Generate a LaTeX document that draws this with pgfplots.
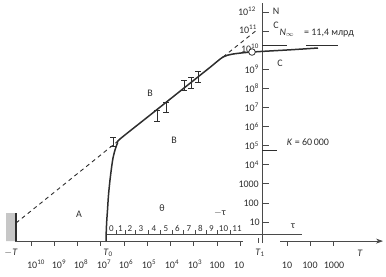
\documentclass[border=0pt]{standalone}
\usepackage{fontspec}
\setmainfont{Carlito}
\usepackage{pgfplots}
\pgfplotsset{compat=1.18}
\usetikzlibrary{arrows.meta}
\definecolor{ink}{HTML}{2E2E2E}
\definecolor{axisgray}{HTML}{4A4A4A}
\begin{document}
\begin{tikzpicture}
\begin{axis}[scale only axis, width=386pt, height=277pt,
  xmin=0, xmax=386, ymin=-1.88, ymax=12.63, hide axis, clip=false,
  unbounded coords=jump]
% invisible frame fixing the picture's extent
\addplot[draw=none, forget plot] coordinates {(0,-1.88) (386,12.63)};
% gray bar at -T
\addplot[fill=black!22, draw=none] coordinates {(6,0) (15,0) (15,1.47) (6,1.47) (6,0)};
\addplot[ink, line width=2pt] coordinates {(15.5,0) (15.5,1.47)};
% main T axis (left part)
\addplot[axisgray, line width=0.8pt] coordinates {(15,0) (243,0)};
\addplot[axisgray, line width=0.7pt] coordinates {
 (31,0) (31,-0.26) (31,nan) (54,0) (54,-0.26) (54,nan) (77,0) (77,-0.26) (77,nan)
 (100,0) (100,-0.26) (100,nan) (124,0) (124,-0.26) (124,nan) (147,0) (147,-0.26) (147,nan)
 (170,0) (170,-0.26) (170,nan) (193,0) (193,-0.26) (193,nan) (217,0) (217,-0.26) (217,nan)
 (240,0) (240,-0.26) (240,nan) (258,0.16) (258,-0.12) (258,nan)
 (287,0) (287,-0.26) (287,nan) (310,0) (310,-0.26) (310,nan) (333,0) (333,-0.26)};
% right T axis with arrow
\addplot[axisgray, line width=0.8pt, -{Stealth[length=7pt,width=5pt]}] coordinates {(280,0) (383,0)};
% vertical N axis
\addplot[axisgray, line width=0.8pt] coordinates {(262,-0.1) (262,12.47)};
\addplot[axisgray, line width=0.7pt] coordinates {
 (262,1) (269,1) (262,nan) (262,2) (269,2) (262,nan) (262,3) (269,3) (262,nan)
 (262,4) (269,4) (262,nan) (262,5) (269,5) (262,nan) (262,6) (269,6) (262,nan)
 (262,7) (269,7) (262,nan) (262,8) (269,8) (262,nan) (262,9) (269,9) (262,nan)
 (262,11) (269,11) (262,nan) (262,12) (269,12)};
% K = 60000 mark
\addplot[ink, line width=0.8pt] coordinates {(262,4.77) (277,4.77)};
% N infinity asymptote
\addplot[ink, line width=0.7pt] coordinates {(262,10.25) (287,10.25) (287,nan) (306,10.25) (338,10.25)};
% theta / tau scale baseline and separators
\addplot[axisgray, line width=0.7pt] coordinates {(106,0.37) (302,0.37)};
\addplot[axisgray, line width=0.5pt] coordinates {
 (116,0.37) (116,0.58) (116,nan) (125,0.37) (125,0.58) (125,nan) (135,0.37) (135,0.58) (135,nan)
 (148,0.37) (148,0.58) (148,nan) (160,0.37) (160,0.58) (160,nan) (172,0.37) (172,0.58) (172,nan)
 (183,0.37) (183,0.58) (183,nan) (195,0.37) (195,0.58) (195,nan) (206,0.37) (206,0.58) (206,nan)
 (217,0.37) (217,0.58) (217,nan) (230,0.37) (230,0.58)};
% dashed straight line (hyperbolic law)
\addplot[ink, line width=0.9pt, dash pattern=on 4pt off 3.5pt] coordinates {(16,0.947) (118,5.24)};
\addplot[ink, line width=0.9pt, dash pattern=on 4pt off 3.5pt] coordinates {(223,9.643) (256,11.02)};
% solid growth curve
\addplot[ink, line width=1.5pt, smooth, tension=0.45] coordinates {
 (106,0) (106.3,0.58) (106.8,1.105) (107.5,1.628) (108.5,2.414) (110,3.2) (111.5,3.83)
 (113,4.352) (115,4.771) (117.5,5.138) (120,5.348) (150,6.599) (190,8.267) (210,9.101)
 (223,9.643) (232,9.79) (245,9.875) (260,9.93) (290,10.02) (318,10.115)};
% data error bars
\addplot[draw=none, mark=none, error bars/.cd, y dir=both, y explicit,
  error bar style={ink, line width=0.6pt},
  error mark options={ink, line width=0.6pt, mark size=2.6pt, rotate=90}]
 coordinates {
 (113,5.217) +- (0,0.236)
 (157,6.579) +- (0,0.288)
 (166,7.024) +- (0,0.262)
 (184,8.176) +- (0,0.262)
 (191,8.307) +- (0,0.288)
 (198,8.622) +- (0,0.288)};
% open circle at present
\addplot[only marks, mark=*, mark size=3.3pt, mark options={fill=white, draw=ink, line width=0.8pt}] coordinates {(252,9.905)};
% texts
\begin{scope}[every node/.style={text=ink, inner sep=0pt}]
\node at (axis cs:79,1.42) {A};
\node at (axis cs:150,7.76) {B};
\node at (axis cs:174,5.30) {B};
\node at (axis cs:276,12.05) {N};
\node at (axis cs:276,11.32) {C};
\node at (axis cs:280,9.33) {C};
\node at (axis cs:287,10.90) {\textit{N}$_{\infty}$};
\node at (axis cs:329,10.90) {= 11,4 млрд};
\node at (axis cs:308,5.19) {\textit{K} = 60\,000};
\node at (axis cs:162,1.73) {θ};
\node at (axis cs:220,1.47) {$-$τ};
\node at (axis cs:293,0.79) {τ};
\node at (axis cs:11,-0.62) {$-$\textit{T}};
\node at (axis cs:108,-0.62) {\textit{T}\textsubscript{0}};
\node at (axis cs:260,-0.62) {\textit{T}\textsubscript{1}};
\node at (axis cs:360,-0.62) {\textit{T}};
% theta digits
\begin{scope}[every node/.append style={font=\small}]
\node at (axis cs:111.5,0.64) {0};
\node at (axis cs:120.5,0.64) {1};
\node at (axis cs:130,0.64) {2};
\node at (axis cs:141,0.64) {3};
\node at (axis cs:154,0.64) {4};
\node at (axis cs:166,0.64) {5};
\node at (axis cs:177.5,0.64) {6};
\node at (axis cs:189,0.64) {7};
\node at (axis cs:200.5,0.64) {8};
\node at (axis cs:211.5,0.64) {9};
\node at (axis cs:223.5,0.64) {10};
\node at (axis cs:237,0.64) {11};
\end{scope}
% bottom T labels (common baseline)
\begin{scope}[every node/.append style={anchor=base}]
\node at (axis cs:36,-1.43) {10\textsuperscript{10}};
\node at (axis cs:59,-1.43) {10\textsuperscript{9}};
\node at (axis cs:81,-1.43) {10\textsuperscript{8}};
\node at (axis cs:104,-1.43) {10\textsuperscript{7}};
\node at (axis cs:126,-1.43) {10\textsuperscript{6}};
\node at (axis cs:149,-1.43) {10\textsuperscript{5}};
\node at (axis cs:172,-1.43) {10\textsuperscript{4}};
\node at (axis cs:195,-1.43) {10\textsuperscript{3}};
\node at (axis cs:217,-1.43) {100};
\node at (axis cs:239,-1.43) {10};
\node at (axis cs:287,-1.43) {10};
\node at (axis cs:310,-1.43) {100};
\node at (axis cs:334,-1.43) {1000};
\end{scope}
% N axis labels
\begin{scope}[every node/.append style={anchor=east}]
\node at (axis cs:260,1) {10};
\node at (axis cs:259,2) {100};
\node at (axis cs:259,3) {1000};
\node at (axis cs:259,4) {10\textsuperscript{4}};
\node at (axis cs:259,5) {10\textsuperscript{5}};
\node at (axis cs:259,6) {10\textsuperscript{6}};
\node at (axis cs:259,7) {10\textsuperscript{7}};
\node at (axis cs:259,8) {10\textsuperscript{8}};
\node at (axis cs:259,9) {10\textsuperscript{9}};
\node at (axis cs:259,10.1) {10\textsuperscript{10}};
\node at (axis cs:257,11.1) {10\textsuperscript{11}};
\node at (axis cs:256,12.05) {10\textsuperscript{12}};
\end{scope}
\end{scope}
\end{axis}
\end{tikzpicture}
\end{document}
